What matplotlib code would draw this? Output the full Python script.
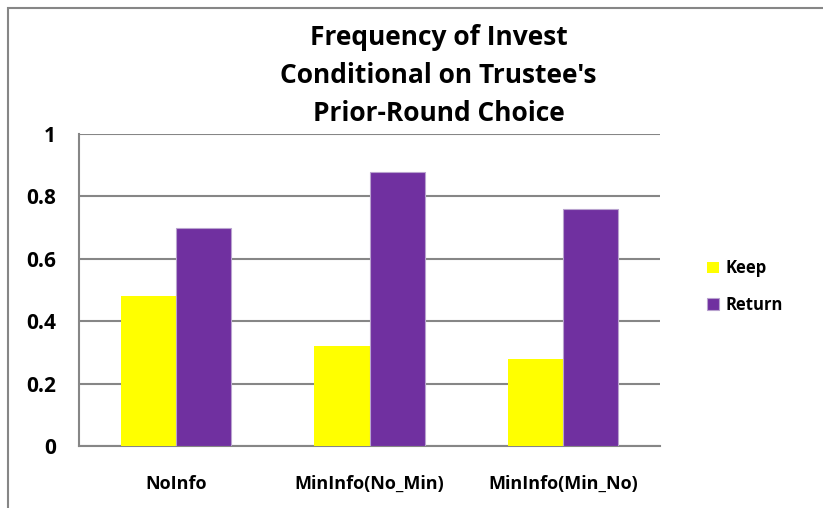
import numpy as np
import matplotlib
matplotlib.use("Agg")
import matplotlib.pyplot as plt
from matplotlib.patches import Rectangle

# data
categories = ["NoInfo", "MinInfo(No_Min)", "MinInfo(Min_No)"]
keep = [0.48, 0.32, 0.28]
ret = [0.70, 0.88, 0.76]
yticks = [0, 0.2, 0.4, 0.6, 0.8, 1]
ytick_labels = ["0", "0.2", "0.4", "0.6", "0.8", "1"]

plt.rcParams['font.family'] = ['Open Sans', 'DejaVu Sans']

fig = plt.figure(figsize=(8.23, 5.08), dpi=100)
ax = fig.add_axes([0.096, 0.122, 0.706, 0.614])

x = np.arange(len(categories))
w = 0.285
ax.bar(x - w / 2, keep, w, color="#FFFF00", label="Keep", zorder=3)
ax.bar(x + w / 2, ret, w, color="#7030A0", edgecolor="#B9A3CF", linewidth=0.8,
       label="Return", zorder=3)

ax.set_xlim(-0.5, 2.5)
ax.set_ylim(0, 1)
ax.set_yticks(yticks)
ax.set_yticklabels(ytick_labels, fontsize=15, fontweight="bold")
ax.set_xticks(x)
ax.set_xticklabels(categories, fontsize=13, fontweight="bold")
ax.tick_params(axis="y", length=0, pad=16.5)
ax.tick_params(axis="x", length=0, pad=21)

ax.yaxis.grid(True, color="#868686", linewidth=1.5, zorder=0)
for s in ["top", "right"]:
    ax.spines[s].set_visible(False)
ax.spines["left"].set_color("#868686")
ax.spines["left"].set_linewidth(1.5)
ax.spines["bottom"].set_color("#868686")
ax.spines["bottom"].set_linewidth(1.5)

fig.text(0.533, 0.852, "Frequency of Invest\nConditional on Trustee's\nPrior-Round Choice",
         ha="center", va="center", fontsize=19, fontweight="bold", linespacing=1.52)

leg = ax.legend(loc="center left", bbox_to_anchor=(1.055, 0.511), frameon=False,
                prop={"weight": "bold", "size": 12},
                handlelength=0.7, handleheight=0.7, handletextpad=0.4,
                labelspacing=1.1)

# outer chart border
fig.patches.append(Rectangle((8 / 823, -0.1), 1.0, 1.1 - 8 / 508,
                             transform=fig.transFigure, fill=False,
                             edgecolor="#868686", linewidth=1.5))

fig.savefig("out.png", dpi=100)
